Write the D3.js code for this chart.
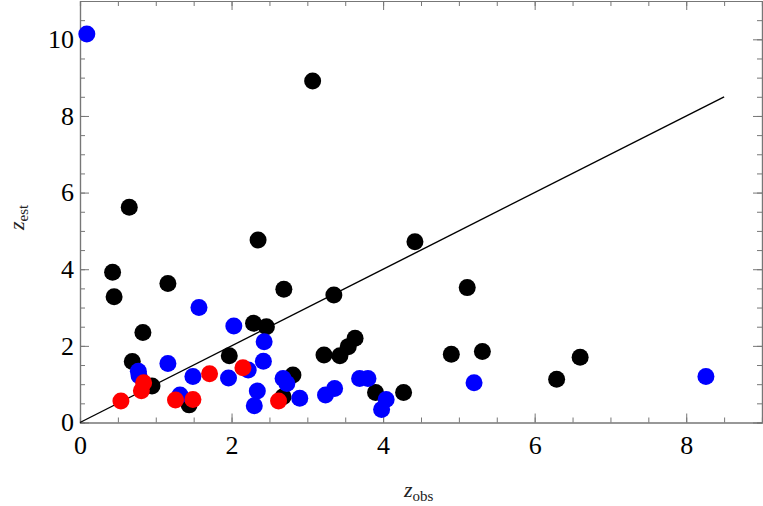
<!DOCTYPE html>
<html>
<head>
<meta charset="utf-8">
<script src="https://cdn.jsdelivr.net/npm/d3@7"></script>
<style>
html,body{margin:0;padding:0;background:#fff;}
svg{display:block;}
svg text{font-family:"Liberation Serif","Times New Roman",Times,serif;}
</style>
</head>
<body>
<svg id="chart" width="763" height="506"></svg>
<script>
// Data (z_obs, z_est)
const blackX = [3.07, 0.65, 0.43, 0.45, 1.16, 2.35, 4.42, 2.69, 3.35, 5.11, 0.83, 2.29, 2.46, 0.69, 0.95, 1.44, 1.97, 2.68, 2.81, 3.22, 3.43, 3.54, 3.63, 3.90, 4.27, 4.90, 5.31, 6.60, 6.29];
const blackY = [8.91, 5.62, 3.92, 3.28, 3.63, 4.76, 4.72, 3.48, 3.33, 3.52, 2.35, 2.59, 2.50, 1.59, 0.95, 0.46, 1.74, 0.67, 1.24, 1.76, 1.74, 1.98, 2.20, 0.78, 0.78, 1.78, 1.85, 1.70, 1.13];
const blueX = [0.09, 1.57, 2.03, 0.77, 0.78, 1.16, 1.32, 1.49, 1.96, 2.22, 2.43, 2.42, 2.34, 2.30, 2.68, 2.73, 2.90, 3.24, 3.36, 3.69, 3.80, 4.04, 3.98, 5.20, 8.26];
const blueY = [10.14, 3.00, 2.52, 1.34, 1.22, 1.54, 0.72, 1.20, 1.16, 1.37, 2.11, 1.60, 0.82, 0.44, 1.15, 1.02, 0.63, 0.72, 0.89, 1.15, 1.15, 0.60, 0.34, 1.04, 1.20];
const redX = [0.54, 0.84, 0.81, 1.26, 1.49, 1.71, 2.15, 2.62];
const redY = [0.56, 1.04, 0.83, 0.59, 0.60, 1.27, 1.43, 0.56];
const lineX = [0, 8.5];
const lineY = [0, 8.5];
const xTicks = [0, 2, 4, 6, 8];
const yTicks = [0, 2, 4, 6, 8, 10];

const svg = d3.select("#chart");
const pLeft = 80, pRight = 762, pTop = 1, pBottom = 422.5;
const x = d3.scaleLinear().domain([0, 9]).range([pLeft, pRight]);
const y = d3.scaleLinear().domain([0, 11]).range([pBottom, pTop]);
const frameColor = "#777";

const minorX = d3.range(0, 9.01, 0.5);
const minorY = d3.range(0, 11.01, 0.5);

function styleAxis(g) {
  g.attr("font-family", null);
  g.selectAll(".domain").attr("stroke", frameColor).attr("stroke-width", 1.2);
  g.selectAll(".tick line").attr("stroke", frameColor).attr("stroke-width", 1);
  g.selectAll("text").attr("font-size", 26).attr("fill", "#000");
}

// minor ticks
svg.append("g").attr("transform", `translate(0,${pBottom})`)
  .call(d3.axisBottom(x).tickValues(minorX).tickSize(-5).tickFormat(""))
  .call(styleAxis);
svg.append("g").attr("transform", `translate(0,${pTop})`)
  .call(d3.axisTop(x).tickValues(minorX).tickSize(-5).tickFormat(""))
  .call(styleAxis);
svg.append("g").attr("transform", `translate(${pLeft},0)`)
  .call(d3.axisLeft(y).tickValues(minorY).tickSize(-5).tickFormat(""))
  .call(styleAxis);
svg.append("g").attr("transform", `translate(${pRight},0)`)
  .call(d3.axisRight(y).tickValues(minorY).tickSize(-5).tickFormat(""))
  .call(styleAxis);

// major ticks
svg.append("g").attr("transform", `translate(0,${pBottom})`)
  .call(d3.axisBottom(x).tickValues(xTicks).tickSizeInner(-9).tickSizeOuter(0).tickPadding(13).tickFormat(d3.format("d")))
  .call(styleAxis);
svg.append("g").attr("transform", `translate(0,${pTop})`)
  .call(d3.axisTop(x).tickValues(xTicks).tickSizeInner(-9).tickSizeOuter(0).tickFormat(""))
  .call(styleAxis);
svg.append("g").attr("transform", `translate(${pLeft},0)`)
  .call(d3.axisLeft(y).tickValues(yTicks).tickSizeInner(-9).tickSizeOuter(0).tickPadding(6).tickFormat(d3.format("d")))
  .call(styleAxis);
svg.append("g").attr("transform", `translate(${pRight},0)`)
  .call(d3.axisRight(y).tickValues(yTicks).tickSizeInner(-9).tickSizeOuter(0).tickFormat(""))
  .call(styleAxis);

// diagonal line
const lineData = lineX.map((d, i) => [d, lineY[i]]);
svg.append("path")
  .datum(lineData)
  .attr("d", d3.line().x(d => x(d[0])).y(d => y(d[1])))
  .attr("stroke", "#000").attr("stroke-width", 1.4).attr("fill", "none");

const r = 8.5;
function dots(xs, ys, color) {
  svg.append("g").selectAll("circle")
    .data(xs.map((d, i) => [d, ys[i]]))
    .join("circle")
    .attr("cx", d => x(d[0])).attr("cy", d => y(d[1]))
    .attr("r", r).attr("fill", color);
}
dots(blackX, blackY, "#000000");
dots(blueX, blueY, "#0000ff");
dots(redX, redY, "#ff0000");

// axis labels
const xl = svg.append("text").attr("x", 404).attr("y", 497)
  .attr("font-size", 22).attr("fill", "#222");
xl.append("tspan").attr("font-style", "italic").text("z");
xl.append("tspan").attr("font-size", 15).attr("dy", 4).text("obs");

const yl = svg.append("text")
  .attr("transform", "translate(24,230) rotate(-90)")
  .attr("font-size", 22).attr("fill", "#222");
yl.append("tspan").attr("font-style", "italic").text("z");
yl.append("tspan").attr("font-size", 15).attr("dy", 4).text("est");
</script>
</body>
</html>
